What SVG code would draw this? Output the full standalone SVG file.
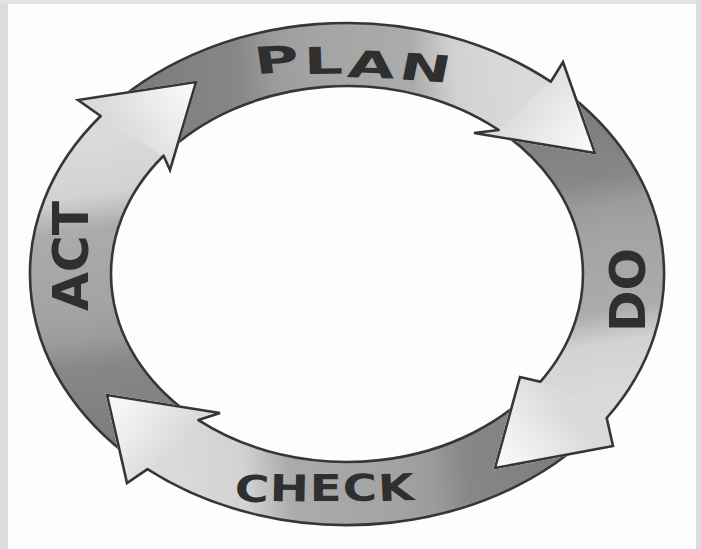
<svg xmlns="http://www.w3.org/2000/svg" xmlns:xlink="http://www.w3.org/1999/xlink" width="701" height="549" viewBox="0 0 701 549">
<style>
.edge{fill:none;stroke:#363636;stroke-width:2.6;stroke-linecap:round;stroke-linejoin:miter}
.lbl{font-family:"DejaVu Sans","Liberation Sans",sans-serif;font-weight:bold;fill:#2f2f2f}
</style>
<defs>
<linearGradient id="gS">
<stop offset="0" stop-color="#7b7b7b"/>
<stop offset="0.28" stop-color="#878787"/>
<stop offset="0.37" stop-color="#9b9b9b"/>
<stop offset="0.46" stop-color="#a3a3a3"/>
<stop offset="0.72" stop-color="#ababab"/>
<stop offset="0.83" stop-color="#d2d2d2"/>
<stop offset="1" stop-color="#dadada"/>
</linearGradient>
<linearGradient id="gH">
<stop offset="0" stop-color="#dadada"/>
<stop offset="0.5" stop-color="#ececec"/>
<stop offset="1" stop-color="#fbfbfb"/>
</linearGradient>
<linearGradient id="gPlan" xlink:href="#gS" gradientUnits="userSpaceOnUse" x1="132" y1="136" x2="525" y2="106"/>
<linearGradient id="gDo" xlink:href="#gS" gradientUnits="userSpaceOnUse" x1="525" y1="106" x2="573.5" y2="400"/>
<linearGradient id="gCheck" xlink:href="#gS" gradientUnits="userSpaceOnUse" x1="573.5" y1="400" x2="173" y2="444.5"/>
<linearGradient id="gAct" xlink:href="#gS" gradientUnits="userSpaceOnUse" x1="173" y1="444.5" x2="132" y2="136"/>
<linearGradient id="hPlan" xlink:href="#gH" gradientUnits="userSpaceOnUse" x1="518.5" y1="97.5" x2="595" y2="153"/>
<linearGradient id="hDo" xlink:href="#gH" gradientUnits="userSpaceOnUse" x1="566.5" y1="411.5" x2="495" y2="468"/>
<linearGradient id="hCheck" xlink:href="#gH" gradientUnits="userSpaceOnUse" x1="173.5" y1="448" x2="107" y2="395"/>
<linearGradient id="hAct" xlink:href="#gH" gradientUnits="userSpaceOnUse" x1="124" y1="135" x2="196" y2="82"/>
<mask id="mAct" maskUnits="userSpaceOnUse" x="0" y="0" width="701" height="549"><rect width="701" height="549" fill="#fff"/><path d="M100.7 116L78 100L196 82L170 170L163.6 155.7Z" fill="#000" stroke="#000" stroke-width="2.6"/></mask>
<mask id="mPlan" maskUnits="userSpaceOnUse" x="0" y="0" width="701" height="549"><rect width="701" height="549" fill="#fff"/><path d="M550.8 81.7L563 62L595 153L474 133L498.7 130Z" fill="#000" stroke="#000" stroke-width="2.6"/></mask>
<mask id="mDo" maskUnits="userSpaceOnUse" x="0" y="0" width="701" height="549"><rect width="701" height="549" fill="#fff"/><path d="M606.7 418L613 446L495 468L520 377L540.3 381.8Z" fill="#000" stroke="#000" stroke-width="2.6"/></mask>
<mask id="mCheck" maskUnits="userSpaceOnUse" x="0" y="0" width="701" height="549"><rect width="701" height="549" fill="#fff"/><path d="M147.5 469.1L127 483L107 395L220 413L198.5 420.1Z" fill="#000" stroke="#000" stroke-width="2.6"/></mask>
</defs>
<rect width="701" height="549" fill="#fdfdfd"/>
<rect x="0" y="0" width="8" height="549" fill="#dcdcdc"/>
<rect x="0" y="0" width="701" height="4" fill="#e3e3e3"/>
<rect x="696" y="0" width="5" height="549" fill="#dddddd"/>

<g id="connectors"></g>

<g id="plan">
<g mask="url(#mAct)">
<path d="M100.7 116A317 251 0 0 1 550.8 81.7L498.7 130A236 188 0 0 0 163.6 155.7Z" fill="url(#gPlan)"/>
<path class="edge" d="M100.7 116A317 251 0 0 1 550.8 81.7M498.7 130A236 188 0 0 0 163.6 155.7"/>
</g>
<path d="M550.8 81.7L563 62L595 153L474 133L498.7 130Z" fill="url(#hPlan)"/>
<path class="edge" d="M550.8 81.7L563 62L595 153L474 133L498.7 130"/>
<text class="lbl" x="256" y="76" dy="-2 0 3 2" rotate="-5 -1 3 7" font-size="37" letter-spacing="2" textLength="196" lengthAdjust="spacingAndGlyphs">PLAN</text>
</g>

<g id="do">
<g mask="url(#mPlan)">
<path d="M550.8 81.7A317 251 0 0 1 606.7 418L540.3 381.8A236 188 0 0 0 498.7 130Z" fill="url(#gDo)"/>
<path class="edge" d="M550.8 81.7A317 251 0 0 1 606.7 418M540.3 381.8A236 188 0 0 0 498.7 130"/>
</g>
<path d="M606.7 418L613 446L495 468L520 377L540.3 381.8Z" fill="url(#hDo)"/>
<path class="edge" d="M606.7 418L613 446L495 468L520 377L540.3 381.8"/>
<text class="lbl" transform="translate(627 290) rotate(-90)" x="0" y="18" text-anchor="middle" font-size="50" textLength="84" lengthAdjust="spacingAndGlyphs">DO</text>
</g>

<g id="check">
<g mask="url(#mDo)">
<path d="M606.7 418A317 251 0 0 1 147.5 469.1L198.5 420.1A236 188 0 0 0 540.3 381.8Z" fill="url(#gCheck)"/>
<path class="edge" d="M606.7 418A317 251 0 0 1 147.5 469.1M198.5 420.1A236 188 0 0 0 540.3 381.8"/>
</g>
<path d="M147.5 469.1L127 483L107 395L220 413L198.5 420.1Z" fill="url(#hCheck)"/>
<path class="edge" d="M147.5 469.1L127 483L107 395L220 413L198.5 420.1"/>
<text class="lbl" x="234" y="501" rotate="3 1 0 -1 -2" font-size="37" letter-spacing="1" textLength="182" lengthAdjust="spacingAndGlyphs">CHECK</text>
</g>

<g id="act">
<g mask="url(#mCheck)">
<path d="M147.5 469.1A317 251 0 0 1 100.7 116L163.6 155.7A236 188 0 0 0 198.5 420.1Z" fill="url(#gAct)"/>
<path class="edge" d="M147.5 469.1A317 251 0 0 1 100.7 116M163.6 155.7A236 188 0 0 0 198.5 420.1"/>
</g>
<path d="M100.7 116L78 100L196 82L170 170L163.6 155.7Z" fill="url(#hAct)"/>
<path class="edge" d="M100.7 116L78 100L196 82L170 170L163.6 155.7"/>
<text class="lbl" transform="translate(70 256) rotate(-90)" x="0" y="18" text-anchor="middle" font-size="49" textLength="110" lengthAdjust="spacingAndGlyphs">ACT</text>
</g>
</svg>
